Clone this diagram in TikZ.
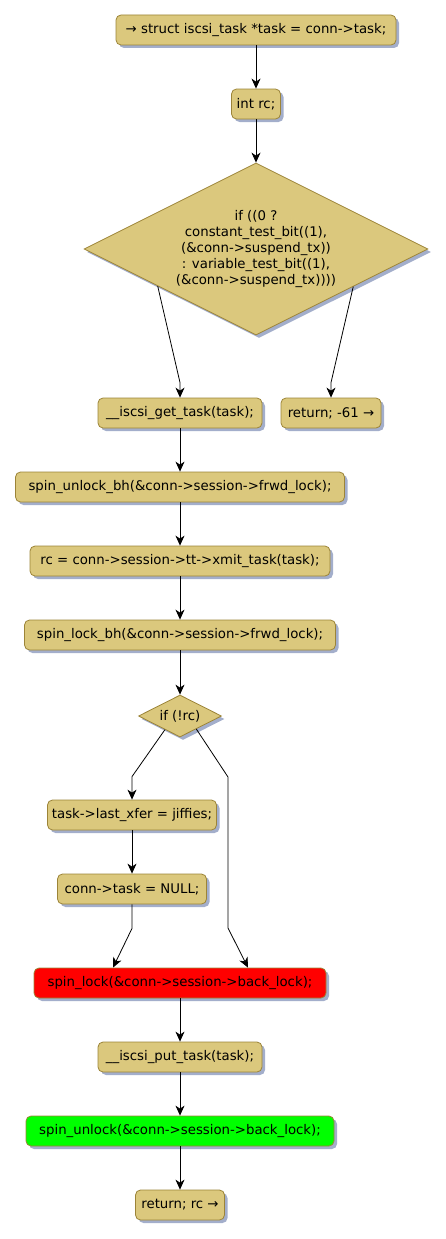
\documentclass[tikz,border=0pt]{standalone}
\usepackage{fontspec}
\setmainfont{DejaVu Sans}
\usetikzlibrary{shapes.geometric,arrows.meta,calc,shadows}
\definecolor{boxfill}{HTML}{DBC87D}
\definecolor{boxdraw}{HTML}{9C8438}
\definecolor{shadowc}{HTML}{A3AECB}
\tikzset{
  act/.style={rectangle, rounded corners=5pt, draw=boxdraw, fill=boxfill, line width=0.8pt,
    minimum height=30pt, inner sep=0pt, font=\fontsize{13.3}{16}\selectfont,
    drop shadow={shadow xshift=3pt, shadow yshift=-3pt, fill=shadowc, opacity=1}},
  cond/.style={diamond, aspect=2, draw=boxdraw, fill=boxfill, line width=0.8pt, inner sep=0pt,
    align=center, font=\fontsize{13.3}{16}\selectfont,
    drop shadow={shadow xshift=3pt, shadow yshift=-3pt, fill=shadowc, opacity=1}},
  arr/.style={draw=black, line width=0.8pt, -{Stealth[length=10pt,width=9pt,inset=3pt]}},
}
\begin{document}
\begin{tikzpicture}[x=1pt,y=-1pt]
\useasboundingbox (0,0) rectangle (446,1239);
\node[act, minimum width=280pt] (n1) at (256,30) {→ struct iscsi\_task *task = conn->task;};
\node[act, minimum width=49pt] (n2) at (256,104) {int rc;};
\node[cond, minimum width=344pt, minimum height=172pt] (d1) at (256,249)
  {if ((0 ?\\ constant\_test\_bit((1),\\ (\&conn->suspend\_tx))\\ : variable\_test\_bit((1),\\ (\&conn->suspend\_tx))))};
\node[act, minimum width=164pt] (n3) at (180,413) {\_\_iscsi\_get\_task(task);};
\node[act, minimum width=100pt] (n4) at (331,413) {return; -61 →};
\node[act, minimum width=329pt] (n5) at (180,487) {spin\_unlock\_bh(\&conn->session->frwd\_lock);};
\node[act, minimum width=300pt] (n6) at (180,561) {rc = conn->session->tt->xmit\_task(task);};
\node[act, minimum width=311pt] (n7) at (180,635) {spin\_lock\_bh(\&conn->session->frwd\_lock);};
\node[cond, minimum width=83pt, minimum height=42pt] (d2) at (180,716) {if (!rc)};
\node[act, minimum width=169pt] (n8) at (132,815) {task->last\_xfer = jiffies;};
\node[act, minimum width=149pt] (n9) at (132,889) {conn->task = NULL;};
\node[act, fill=red, minimum width=292pt] (n10) at (180,983) {spin\_lock(\&conn->session->back\_lock);};
\node[act, minimum width=164pt] (n11) at (180,1057) {\_\_iscsi\_put\_task(task);};
\node[act, fill=green, minimum width=308pt] (n12) at (180,1131) {spin\_unlock(\&conn->session->back\_lock);};
\node[act, minimum width=89pt] (n13) at (180,1205) {return; rc →};

\draw[arr] (n1.south) -- (n2.north);
\draw[arr] (n2.south) -- (d1.north);
\draw[arr] ($(d1.west)!0.43!(d1.south)$) -- ($(n3.north)+(0,-15)$) -- (n3.north);
\draw[arr] ($(d1.east)!0.436!(d1.south)$) -- ($(n4.north)+(0,-15)$) -- (n4.north);
\draw[arr] (n3.south) -- (n5.north);
\draw[arr] (n5.south) -- (n6.north);
\draw[arr] (n6.south) -- (n7.north);
\draw[arr] (n7.south) -- (d2.north);
\draw[arr] ($(d2.west)!0.64!(d2.south)$) -- ($(n8.north)+(0,-23)$) -- (n8.north);
\draw[arr] (n8.south) -- (n9.north);
\coordinate (b1) at (228,777);
\coordinate (b2) at (228,928);
\draw[arr] ($(d2.east)!0.61!(d2.south)$) -- (b1) -- (b2) -- ($(n10.north)+(68,0)$);
\draw[arr] (n9.south) -- ++(0,24) -- ($(n10.north)+(-67,0)$);
\draw[arr] (n10.south) -- (n11.north);
\draw[arr] (n11.south) -- (n12.north);
\draw[arr] (n12.south) -- (n13.north);
\end{tikzpicture}
\end{document}
